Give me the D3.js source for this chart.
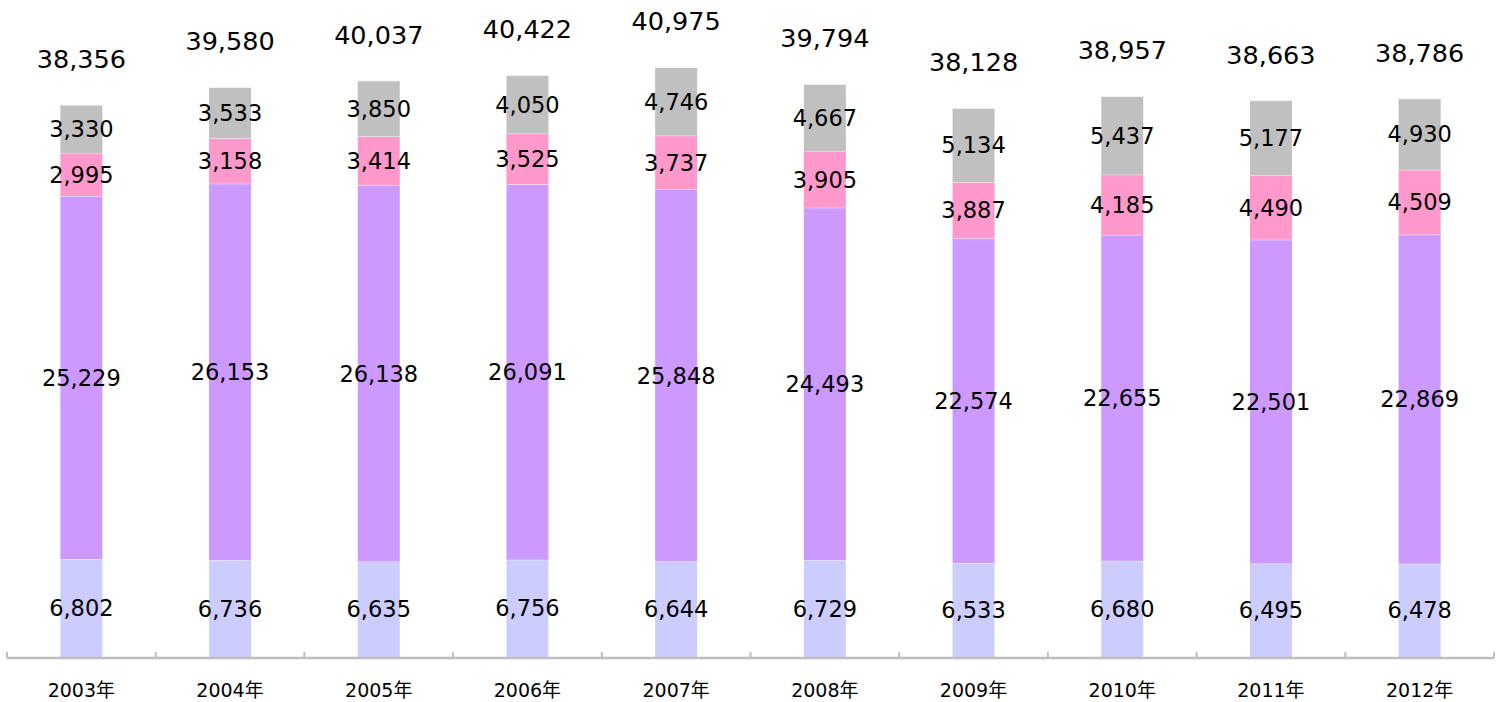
<!DOCTYPE html>
<html>
<head>
<meta charset="utf-8">
<script src="https://cdn.jsdelivr.net/npm/d3@7"></script>
<style>
  html, body { margin: 0; padding: 0; background: #fff; }
  svg { display: block; }
</style>
</head>
<body>
<svg id="chart" width="1504" height="702"></svg>
<script>
// Annual figures, stacked bottom to top
const years = ["2003年","2004年","2005年","2006年","2007年","2008年","2009年","2010年","2011年","2012年"];
const seriesA = [6802, 6736, 6635, 6756, 6644, 6729, 6533, 6680, 6495, 6478];
const seriesB = [25229, 26153, 26138, 26091, 25848, 24493, 22574, 22655, 22501, 22869];
const seriesC = [2995, 3158, 3414, 3525, 3737, 3905, 3887, 4185, 4490, 4509];
const seriesD = [3330, 3533, 3850, 4050, 4746, 4667, 5134, 5437, 5177, 4930];
const totals  = [38356, 39580, 40037, 40422, 40975, 39794, 38128, 38957, 38663, 38786];

const keys = ["a", "b", "c", "d"];
const colors = { a: "#CCCCFF", b: "#CC99FF", c: "#FF99CC", d: "#C0C0C0" };

const rows = years.map((y, i) => ({
  year: y, a: seriesA[i], b: seriesB[i], c: seriesC[i], d: seriesD[i], total: totals[i]
}));

const svg = d3.select("#chart");
const axisY = 657;
const left = 7, right = 1494;

const x = d3.scaleBand().domain(years).range([left, right]).paddingInner(0).paddingOuter(0);
const y = d3.scaleLinear().domain([0, 45000]).range([axisY, axisY - 45000 * 0.01439]);

const barW = 42;
const fmt = d3.format(",");
const numFont = "'DejaVu Sans', Verdana, sans-serif";

const stack = d3.stack().keys(keys)(rows);

const groups = svg.append("g").selectAll("g")
  .data(stack).join("g")
  .attr("fill", d => colors[d.key]);

groups.selectAll("rect")
  .data(d => d)
  .join("rect")
  .attr("x", d => x(d.data.year) + x.bandwidth() / 2 - barW / 2)
  .attr("width", barW)
  .attr("y", d => y(d[1]))
  .attr("height", d => y(d[0]) - y(d[1]));

// Thin light separators between segments
groups.selectAll("line")
  .data(d => d)
  .join("line")
  .attr("x1", d => x(d.data.year) + x.bandwidth() / 2 - barW / 2)
  .attr("x2", d => x(d.data.year) + x.bandwidth() / 2 + barW / 2)
  .attr("y1", d => y(d[1]))
  .attr("y2", d => y(d[1]))
  .attr("stroke", "#f4f4f4")
  .attr("stroke-width", 1);

// Segment values
const segLabels = svg.append("g");
stack.forEach(layer => {
  segLabels.selectAll(null)
    .data(layer)
    .join("text")
    .attr("x", d => x(d.data.year) + x.bandwidth() / 2)
    .attr("y", d => (y(d[0]) + y(d[1])) / 2)
    .attr("dy", "0.36em")
    .attr("text-anchor", "middle")
    .attr("font-family", numFont)
    .attr("font-size", 22.5)
    .attr("fill", "#000")
    .text(d => fmt(d[1] - d[0]));
});

// Totals above each bar
svg.append("g").selectAll("text")
  .data(rows)
  .join("text")
  .attr("x", d => x(d.year) + x.bandwidth() / 2)
  .attr("y", d => y(d.total) - 37)
  .attr("text-anchor", "middle")
  .attr("font-family", numFont)
  .attr("font-size", 25.5)
  .attr("fill", "#000")
  .text(d => fmt(d.total));

// Category axis with ticks between categories
const axisG = svg.append("g");
axisG.append("line")
  .attr("x1", left).attr("x2", right)
  .attr("y1", axisY + 1).attr("y2", axisY + 1)
  .attr("stroke", "#bfbfbf").attr("stroke-width", 2.5);

const tickPos = years.map(yy => x(yy)).concat([right]);
axisG.selectAll("line.tick")
  .data(tickPos)
  .join("line")
  .attr("class", "tick")
  .attr("x1", d => d).attr("x2", d => d)
  .attr("y1", axisY - 5).attr("y2", axisY + 1)
  .attr("stroke", "#bfbfbf").attr("stroke-width", 2);

axisG.selectAll("text")
  .data(years)
  .join("text")
  .attr("x", d => x(d) + x.bandwidth() / 2)
  .attr("y", 697)
  .attr("text-anchor", "middle")
  .attr("font-family", "'DejaVu Sans', 'Noto Sans CJK JP', sans-serif")
  .attr("font-size", 19)
  .attr("fill", "#000")
  .text(d => d);
</script>
</body>
</html>
